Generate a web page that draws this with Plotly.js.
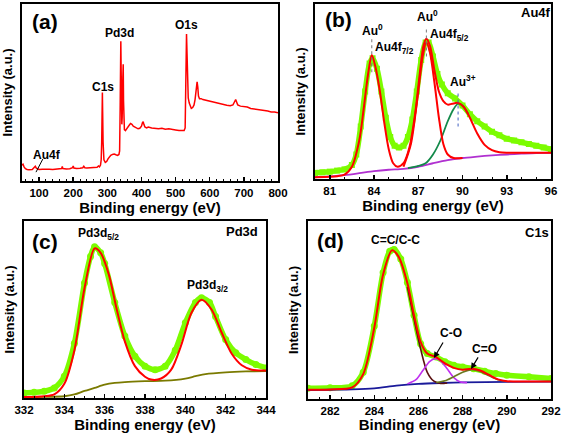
<!DOCTYPE html>
<html>
<head>
<meta charset="utf-8">
<script src="https://cdn.plot.ly/plotly-3.0.1.min.js"></script>
<style>html,body{margin:0;padding:0;background:#fff;}#chart{width:562px;height:433px;}</style>
</head>
<body>
<div id="chart"></div>
<script>
// ---------- (a) survey spectrum ----------
const surveyE = [50,53,56,60,65,70,80,86,89,92,100,110,120,130,140,150,160,166,168,170,180,190,198,200,202,210,220,228,231,234,240,250,260,270,274,277,280,282,283.5,285.5,287.5,290,294,298,302,306,310,315,320,325,330,334,336,337.5,338.5,339.5,340.5,341.5,342.5,343.5,345,346.5,347.5,348.5,350,353,356,360,364,368,372,376,380,385,390,395,400,403,405,407,410,415,420,430,440,450,460,470,480,490,500,510,520,525,528,530,532,533.5,535,537,540,543,546,550,554,557,560,563,565,567,570,575,580,590,600,610,620,630,640,650,660,668,672,676,679,682,690,700,710,720,730,740,750,760,770,780,790,800];
const surveyI = [9,9.5,8,7,6.5,6.3,6.5,7.5,8.3,7.3,6.5,6.6,6.4,6.6,6.5,6.7,6.6,7,8.2,7,6.8,6.9,7.5,8.5,7.3,7,7.2,7.5,8.3,7.5,7.3,7.4,7.6,7.8,8.5,8,9,12,22,50,22,12,10.5,11,12.5,13.5,14.5,15,15.2,14.8,14.5,15,17,40,70,79,62,38,32,36,55,66,45,32,29,28.5,29.5,30,31.5,32.5,32,31,30.5,30,29.5,29.8,31,33,33.5,32,30.5,30,30.5,30,29.8,29.5,29.8,29.3,29.5,29,28.8,28.5,28.6,28.5,30,55,83,72,55,47,44,42,41,41.5,43,46,52,56,53,48,46.5,46.5,46,45.5,45,44.8,44.2,43.5,43,42.8,42.5,43,44.5,46,44.5,43,42.3,42,41.8,41,40.8,40.5,40,39.8,39.5,39,39,38.5];

// ---------- (b) Au4f ----------
const au_dataE = [80,80.5,81,81.5,82,82.5,82.8,83.1,83.4,83.7,83.9,84.2,84.5,84.8,85.1,85.4,85.7,86,86.3,86.6,86.9,87.2,87.5,87.7,88,88.3,88.6,89,89.5,90,90.5,91,91.5,92,92.5,93,93.5,94,94.5,95,95.5,96];
const au_dataI = [3.5,3.8,4.2,4.8,5.5,8,14,30,50,66,69,63,50,35,24,19,18,19,24,34,50,68,78,78,70,60,54,49,46,42,37,33,30,27,25,23,22,21,20,19,18,17];
const au_fitE = [80,81,81.5,82,82.5,83,83.3,83.6,83.85,84.1,84.4,84.7,85,85.3,85.6,86,86.4,86.8,87.1,87.35,87.55,87.8,88.1,88.4,88.7,89,89.3,89.7,90.1,90.5,91,91.5,92,92.5,93,94,95,96];
const au_fitI = [1,1.3,1.6,2.5,7,22,40,60,70.8,64,50,32,17,9,7,9,18,38,60,76,80.2,76,62,50,44.5,42.5,43,43.5,41,35,26,19.5,16.5,15.3,15,15,15,15];
const au52E = [86,86.5,87,87.3,87.55,87.8,88.1,88.4,88.7,89,89.4,90];
const au52I = [7,20,50,70,78,72,55,35,20,14,12,12];
const au3E = [86.3,87,87.5,88,88.5,89,89.4,89.7,90,90.4];
const au3I = [6.2,7.5,9,14,22,33,40,43,42,37];
const au_bgE = [80,81,82,83,84,85,86,87,88,89,90,91,92,93,94,95,96];
const au_bgI = [1,1.5,2.2,3.3,4.5,5.3,5.8,7,9,10.8,12,12.8,13.5,14,14.5,14.8,15];

// ---------- (c) Pd3d ----------
const pd_dataE = [332,332.5,333,333.5,334,334.5,335,335.3,335.5,335.8,336,336.5,337,337.5,338,338.5,339,339.5,340,340.5,340.8,341.2,341.5,342,342.5,343,343.5,344];
const pd_dataI = [2.8,3.2,3.8,5.7,12.3,31,65,80,85.5,82,76,54,35,23.6,18,16,18,27,42.5,54,56.6,54,46,33,25.5,21.7,18.9,17];
const pd_fitE = [332,333,333.5,334,334.5,335,335.5,335.8,336.2,336.6,337,337.5,338,338.3,338.8,339.3,339.8,340.3,340.8,341.3,341.8,342.3,342.8,343.3,344];
const pd_fitI = [0.5,1,2,8,27,62,84.5,82,70,50,32,18,12,10.4,11,16,30,48,55.5,50,37,25,18.5,16,15.5];
const pd_bgE = [332,333,334,334.5,335,335.5,336,336.5,337,338,339,340,340.5,341,342,343,344];
const pd_bgI = [0.5,0.6,1,2,4,5.7,7.5,8.5,9,9.5,9.8,11,12.3,13.5,14.5,15,15.2];

// ---------- (d) C1s ----------
const c_dataE = [281,282,283,283.5,284,284.4,284.7,284.9,285.2,285.5,285.8,286.1,286.4,286.8,287.2,287.6,288,288.5,289,289.5,290,291,292];
const c_dataI = [6,6.3,7.4,15,41,71,83,84,78.6,65.5,47,31,25.5,23.6,20.9,19,18,17,15.6,14.3,13.4,12.5,11.5];
const c_fitE = [281,282,283,283.5,284,284.4,284.8,285.1,285.5,285.8,286.1,286.4,286.8,287.2,287.6,288,288.4,288.8,289.2,289.6,290,291,292];
const c_fitI = [5.2,5.4,6.5,14,40,70,83.5,80,65,47,32,25.5,23.5,20,17.5,16.5,17,16,13.5,11,10,9.8,9.8];
const c_ccE = [285.5,285.8,286.1,286.4,286.7,287,287.3];
const c_ccI = [63,45,28,15,10,8.7,9];
const c_coE = [285.5,285.9,286.2,286.5,286.75,287,287.3,287.6,287.9,288.2];
const c_coI = [8.5,11,16,21,22.7,21.5,17,12,9.5,9.2];
const c_c2oE = [286.8,287.2,287.6,288,288.4,288.8,289.2,289.6,290];
const c_c2oI = [9.3,10.2,12.5,15,16.5,15.5,13,10.8,10];
const c_bgE = [281,282,283,284,285,286,287,288,290,292];
const c_bgI = [5,5.2,5.4,6,7.5,8.5,9,9.3,9.6,9.8];

const LIME = '#7CFC00';
const RED = '#FF0000';
const FONT = 'Liberation Sans, Arial, sans-serif';

function ln(x, y, xa, ya, color, width, shape) {
  return {x: x, y: y, xaxis: xa, yaxis: ya, type: 'scatter', mode: 'lines',
          line: {color: color, width: width, shape: shape || 'spline', smoothing: 0.8},
          hoverinfo: 'skip', showlegend: false};
}
function dots(x, y, xa, ya, symbol, size) {
  return {x: x, y: y, xaxis: xa, yaxis: ya, type: 'scatter', mode: 'lines+markers',
          line: {color: LIME, width: 5.5, shape: 'spline', smoothing: 0.8},
          marker: {color: LIME, size: size, symbol: symbol},
          hoverinfo: 'skip', showlegend: false};
}

const data = [
  ln(surveyE, surveyI, 'x', 'y', RED, 1.5, 'linear'),

  ln(au_bgE, au_bgI, 'x2', 'y2', '#B030D0', 1.8),
  dots(au_dataE, au_dataI, 'x2', 'y2', 'square', 6),
  ln(au3E, au3I, 'x2', 'y2', '#138A4A', 1.8),
  ln(au52E, au52I, 'x2', 'y2', RED, 2),
  ln(au_fitE, au_fitI, 'x2', 'y2', RED, 2),

  dots(pd_dataE, pd_dataI, 'x3', 'y3', 'circle', 7),
  ln(pd_bgE, pd_bgI, 'x3', 'y3', '#7A7A00', 1.8),
  ln(pd_fitE, pd_fitI, 'x3', 'y3', RED, 2),

  dots(c_dataE, c_dataI, 'x4', 'y4', 'circle', 7),
  ln(c_bgE, c_bgI, 'x4', 'y4', '#1A1A9A', 1.8),
  ln(c_ccE, c_ccI, 'x4', 'y4', '#5A1010', 1.6),
  ln(c_coE, c_coI, 'x4', 'y4', '#C030F0', 1.6),
  ln(c_c2oE, c_c2oI, 'x4', 'y4', '#6B7A20', 1.6),
  ln(c_fitE, c_fitI, 'x4', 'y4', RED, 2)
];

const tickFont = {family: FONT, size: 11.5, color: 'black', weight: 'bold'};
const titleFont = {family: FONT, size: 15, color: 'black', weight: 'bold'};
const ytitleFont = {family: FONT, size: 13, color: 'black', weight: 'bold'};

function xax(domain, range, dtick, tick0, minor) {
  return {domain: domain, range: range, dtick: dtick, tick0: tick0, showline: true, linecolor: 'black',
          linewidth: 2, mirror: true, ticks: 'inside', ticklen: 4, tickwidth: 1.5, tickcolor: 'black',
          minor: {dtick: minor, ticks: 'inside', ticklen: 2, tickwidth: 1, tickcolor: 'black', showgrid: false},
          showgrid: false, zeroline: false, tickfont: tickFont,
          title: {text: 'Binding energy (eV)', font: titleFont, standoff: 4}};
}
function yax(domain, anchor) {
  return {domain: domain, range: [0, 100], showline: true, linecolor: 'black', linewidth: 2,
          mirror: true, ticks: '', showticklabels: false, showgrid: false, zeroline: false, anchor: anchor,
          title: {text: 'Intensity (a.u.)', font: ytitleFont, standoff: 4}};
}

function lbl(text, x, y, xr, yr, size, extra) {
  return Object.assign({text: text, x: x, y: y, xref: xr, yref: yr, showarrow: false,
          font: {family: FONT, size: size, color: 'black', weight: 'bold'}}, extra || {});
}

const layout = {
  width: 562, height: 433,
  margin: {l: 0, r: 0, t: 0, b: 0},
  paper_bgcolor: 'white', plot_bgcolor: 'white',
  showlegend: false,
  xaxis:  xax([22/562, 278/562], [50, 800], 100, 0, 20),
  yaxis:  yax([1-181/433, 1-4/433], 'x'),
  xaxis2: Object.assign(xax([315/562, 551/562], [80, 96], 3, 81, 1), {anchor: 'y2'}),
  yaxis2: yax([1-179/433, 1-4/433], 'x2'),
  xaxis3: Object.assign(xax([24/562, 266/562], [332, 344], 2, 332, 0.5), {anchor: 'y3'}),
  yaxis3: yax([1-398/433, 1-221/433], 'x3'),
  xaxis4: Object.assign(xax([308/562, 551/562], [281, 292], 2, 282, 0.5), {anchor: 'y4'}),
  yaxis4: yax([1-399/433, 1-221/433], 'x4'),
  shapes: [
    {type: 'line', xref: 'x', yref: 'y', x0: 111, y0: 12.4, x1: 91, y1: 5, line: {color: 'black', width: 1}},
    {type: 'line', xref: 'x2', yref: 'y2', x0: 83.85, y0: 61, x1: 83.85, y1: 80, line: {color: '#777', width: 1, dash: 'dot'}},
    {type: 'line', xref: 'x2', yref: 'y2', x0: 87.55, y0: 70, x1: 87.55, y1: 87, line: {color: '#777', width: 1, dash: 'dot'}},
    {type: 'line', xref: 'x2', yref: 'y2', x0: 89.7, y0: 30, x1: 89.7, y1: 50, line: {color: '#4060C0', width: 1, dash: 'dot'}}
  ],
  annotations: [
    lbl('(a)', 117, 90, 'x', 'y', 21),
    lbl('Pd3d', 337, 83.6, 'x', 'y', 12),
    lbl('O1s', 533, 88, 'x', 'y', 12),
    lbl('C1s', 287, 53, 'x', 'y', 12),
    lbl('Au4f', 123, 14.7, 'x', 'y', 12),

    lbl('(b)', 81.6, 91, 'x2', 'y2', 21),
    lbl('Au4f', 95, 95, 'x2', 'y2', 13),
    lbl('Au<sup>0</sup>', 83.9, 85, 'x2', 'y2', 12),
    lbl('Au4f<sub>7/2</sub>', 85.4, 75, 'x2', 'y2', 12),
    lbl('Au<sup>0</sup>', 87.66, 93, 'x2', 'y2', 12),
    lbl('Au4f<sub>5/2</sub>', 89.1, 82, 'x2', 'y2', 12),
    lbl('Au<sup>3+</sup>', 90, 56, 'x2', 'y2', 12),

    lbl('(c)', 333.05, 88.7, 'x3', 'y3', 21),
    lbl('Pd3d', 342.8, 94, 'x3', 'y3', 13),
    lbl('Pd3d<sub>5/2</sub>', 335.7, 92.7, 'x3', 'y3', 12),
    lbl('Pd3d<sub>3/2</sub>', 341.1, 63, 'x3', 'y3', 12),

    lbl('(d)', 282.04, 88.8, 'x4', 'y4', 21),
    lbl('C1s', 291.37, 93.3, 'x4', 'y4', 13),
    lbl('C=C/C-C', 284.98, 89.3, 'x4', 'y4', 12),
    lbl('C-O', 287.47, 37, 'x4', 'y4', 12),
    lbl('C=O', 288.97, 28, 'x4', 'y4', 12),
    {x: 286.7, y: 23, xref: 'x4', yref: 'y4', ax: 10, ay: -17, text: '', showarrow: true,
     arrowhead: 2, arrowsize: 1, arrowwidth: 1.2, arrowcolor: 'black'},
    {x: 288.38, y: 16.9, xref: 'x4', yref: 'y4', ax: 8, ay: -13, text: '', showarrow: true,
     arrowhead: 2, arrowsize: 1, arrowwidth: 1.2, arrowcolor: 'black'}
  ]
};

Plotly.newPlot('chart', data, layout, {displayModeBar: false, staticPlot: true});
</script>
</body>
</html>
